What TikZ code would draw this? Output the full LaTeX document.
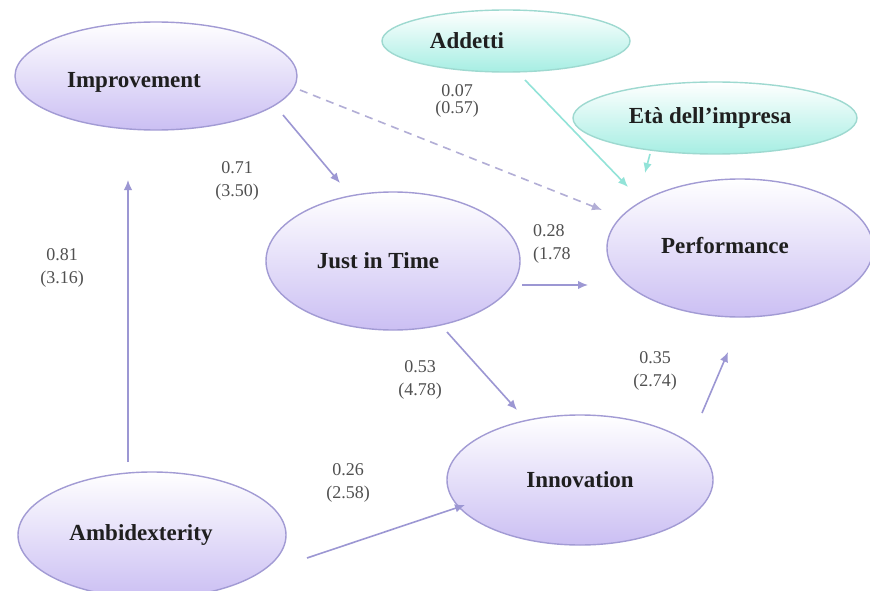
\documentclass[tikz,border=0pt]{standalone}
\usepackage{fontspec}
\setmainfont{Liberation Serif}
\usetikzlibrary{arrows.meta,calc,shapes.geometric}

\definecolor{lavfill}{HTML}{CBBFF3}
\definecolor{lavline}{HTML}{A29BD4}
\definecolor{arrowcol}{HTML}{9C97D3}
\definecolor{dashcol}{HTML}{B2AED6}
\definecolor{tealfill}{HTML}{A6EEE3}
\definecolor{tealline}{HTML}{9ED9D0}
\definecolor{tealarrow}{HTML}{92E3D8}
\definecolor{coeftext}{HTML}{505050}

\tikzset{
  construct/.style={ellipse, draw=lavline, line width=1.4pt,
    top color=white, bottom color=lavfill, inner sep=0pt,
    font=\fontsize{23}{26}\selectfont\bfseries, text=black!88},
  control/.style={construct, draw=tealline, bottom color=tealfill},
  link/.style={draw=arrowcol, line width=1.6pt,
    -{Latex[length=10pt,width=8.5pt]}},
  weaklink/.style={link, draw=dashcol, dashed, dash pattern=on 8pt off 6pt},
  ctrllink/.style={link, draw=tealarrow},
  coef/.style={font=\fontsize{18}{22.5}\selectfont, text=coeftext,
    align=center, inner sep=0pt}
}

\begin{document}
\begin{tikzpicture}[x=1pt, y=-1pt]
  \useasboundingbox (0,0) rectangle (870,591);
  \fill[white] (0,0) rectangle (870,591);

  % latent constructs
  \node[construct, minimum width=282pt, minimum height=108pt] (imp) at (156,76)
    {\raisebox{-6pt}[\height][\depth]{Improvement}\hspace*{44pt}};
  \node[construct, minimum width=254pt, minimum height=138pt] (jit) at (393,261)
    {Just in Time\hspace*{30pt}};
  \node[construct, minimum width=266pt, minimum height=138pt] (perf) at (740,248)
    {\raisebox{2pt}[\height][\depth]{Performance}\hspace*{30pt}};
  \node[construct, minimum width=266pt, minimum height=130pt] (inn) at (580,480)
    {Innovation};
  \node[construct, minimum width=268pt, minimum height=126pt] (amb) at (152,535)
    {Ambidexterity\hspace*{22pt}};

  % control variables
  \node[control, minimum width=248pt, minimum height=62pt] (add) at (506,41)
    {Addetti\hspace*{78pt}};
  \node[control, minimum width=284pt, minimum height=72pt] (eta) at (715,118)
    {Età dell’impresa\hspace*{10pt}};

  % structural paths
  \draw[link] ($(amb)+(-24,-73)$) -- ($(imp)+(-28,104)$);
  \draw[link] ($(imp)+(127,39)$) -- ($(jit)+(-53,-78)$);
  \draw[weaklink] ($(imp)+(144,14)$) -- ($(perf)+(-138,-38)$);
  \draw[link] ($(jit)+(129,24)$) -- ($(perf)+(-152,37)$);
  \draw[link] ($(jit)+(54,71)$) -- ($(inn)+(-63,-70)$);
  \draw[link] ($(inn)+(122,-67)$) -- ($(perf)+(-12,104)$);
  \draw[link] ($(amb)+(155,23)$) -- ($(inn)+(-115,25)$);

  % control paths
  \draw[ctrllink] ($(add)+(19,39)$) -- ($(perf)+(-112,-61)$);
  \draw[ctrllink] ($(eta)+(-65,36)$) -- ($(perf)+(-95,-75)$);

  % path coefficients (t-values)
  \node[coef] (c1) at (62,268) {0.81\\(3.16)};
  \node[coef] (c2) at (237,181) {0.71\\(3.50)};
  \node[coef, font=\fontsize{18}{17}\selectfont] (c3) at (457,101) {0.07\\(0.57)};
  \node[coef, align=left, anchor=west] (c4) at (533,244) {0.28\\(1.78};
  \node[coef] (c5) at (420,380) {0.53\\(4.78)};
  \node[coef] (c6) at (655,371) {0.35\\(2.74)};
  \node[coef] (c7) at (348,483) {0.26\\(2.58)};
\end{tikzpicture}
\end{document}
